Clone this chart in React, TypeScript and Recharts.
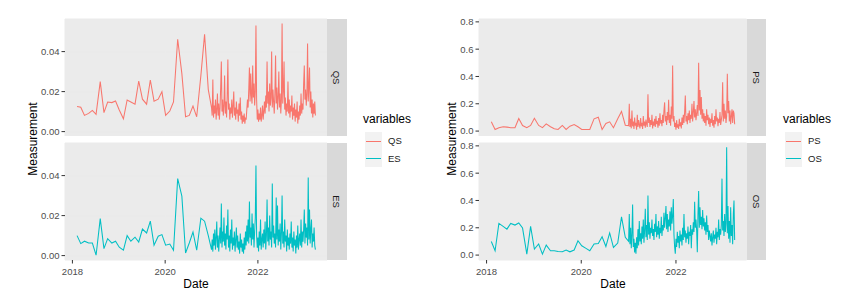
import React from "react";
import { CartesianGrid, Line, LineChart, XAxis, YAxis } from "recharts";

// monthly readings, Feb 2018 - Dec 2020
const sparseDates = [
  2018.10, 2018.18, 2018.26, 2018.35, 2018.43, 2018.51, 2018.60, 2018.68, 2018.76, 2018.85, 2018.93,
  2019.01, 2019.10, 2019.18, 2019.26, 2019.35, 2019.43, 2019.51, 2019.60, 2019.68, 2019.76, 2019.85, 2019.93,
  2020.01, 2020.10, 2020.18, 2020.27, 2020.36, 2020.44, 2020.52, 2020.60, 2020.68, 2020.77, 2020.85, 2020.93,
];

const qsSparse = [
  0.0125, 0.0122, 0.0081, 0.0091, 0.0106, 0.0086, 0.025, 0.0095, 0.0148, 0.0145, 0.0153,
  0.0108, 0.0064, 0.0158, 0.0148, 0.0137, 0.0253, 0.0162, 0.0137, 0.0258, 0.0152, 0.0162, 0.0199,
  0.0081, 0.0103, 0.0148, 0.0462, 0.029, 0.0074, 0.0081, 0.0128, 0.0074, 0.028, 0.0486, 0.021,
];
const esSparse = [
  0.01, 0.006, 0.0072, 0.0063, 0.0063, 0.0002, 0.0185, 0.0035, 0.0085, 0.0063, 0.0072,
  0.0042, 0.0027, 0.01, 0.0072, 0.0092, 0.0068, 0.0133, 0.0113, 0.0172, 0.0052, 0.0097, 0.0105,
  0.0052, 0.0058, 0.0027, 0.0385, 0.0297, 0.0013, 0.0063, 0.0118, 0.0027, 0.0187, 0.0172, 0.01,
];
const psSparse = [
  0.068, 0.012, 0.025, 0.032, 0.029, 0.025, 0.025, 0.092, 0.041, 0.025, 0.041,
  0.094, 0.041, 0.025, 0.053, 0.032, 0.017, 0.012, 0.041, 0.012, 0.036, 0.048, 0.032,
  0.012, 0.012, 0.012, 0.09, 0.101, 0.012, 0.056, 0.068, 0.025, 0.09, 0.144, 0.043,
];
const osSparse = [
  0.1, 0.032, 0.232, 0.21, 0.19, 0.232, 0.22, 0.235, 0.198, 0.007, 0.21,
  0.044, 0.081, 0.007, 0.073, 0.032, 0.032, 0.026, 0.024, 0.037, 0.024, 0.037, 0.105,
  0.068, 0.049, 0.032, 0.081, 0.085, 0.134, 0.063, 0.162, 0.056, 0.088, 0.28, 0.13,
];

// frequent readings, Jan 2021 - Mar 2023
const denseStart = 2021.0;
const denseEnd = 2023.24;

const qsDense = [
  0.012, 0.008, 0.026, 0.007, 0.013, 0.009, 0.016, 0.006, 0.011, 0.019,
  0.008, 0.014, 0.006, 0.012, 0.022, 0.035, 0.01, 0.016, 0.008, 0.013,
  0.028, 0.009, 0.015, 0.007, 0.018, 0.036, 0.011, 0.014, 0.006, 0.012,
  0.009, 0.016, 0.007, 0.013, 0.02, 0.008, 0.012, 0.006, 0.015, 0.009,
  0.011, 0.005, 0.014, 0.008, 0.017, 0.006, 0.01, 0.004, 0.008, 0.005,
  0.009, 0.004, 0.007, 0.006, 0.011, 0.016, 0.012, 0.021, 0.032, 0.015,
  0.029, 0.018, 0.014, 0.033, 0.017, 0.024, 0.013, 0.02, 0.053, 0.016,
  0.006, 0.011, 0.005, 0.009, 0.006, 0.012, 0.005, 0.008, 0.013, 0.006,
  0.01, 0.015, 0.009, 0.018, 0.012, 0.035, 0.014, 0.02, 0.01, 0.024,
  0.013, 0.017, 0.04, 0.012, 0.021, 0.015, 0.009, 0.019, 0.038, 0.014,
  0.022, 0.011, 0.017, 0.03, 0.012, 0.019, 0.009, 0.016, 0.054, 0.014,
  0.02, 0.035, 0.011, 0.017, 0.008, 0.014, 0.01, 0.025, 0.009, 0.016,
  0.007, 0.013, 0.01, 0.018, 0.006, 0.012, 0.008, 0.014, 0.005, 0.011,
  0.007, 0.015, 0.004, 0.01, 0.006, 0.013, 0.008, 0.019, 0.009, 0.014,
  0.011, 0.024, 0.033, 0.016, 0.021, 0.013, 0.019, 0.044, 0.015, 0.022,
  0.032, 0.012, 0.02, 0.009, 0.016, 0.007, 0.014, 0.009, 0.015, 0.008,
];
const esDense = [
  0.003, 0.008, 0.002, 0.011, 0.005, 0.013, 0.003, 0.009, 0.017, 0.004,
  0.01, 0.002, 0.008, 0.014, 0.006, 0.026, 0.004, 0.012, 0.007, 0.019,
  0.005, 0.011, 0.003, 0.015, 0.008, 0.023, 0.004, 0.01, 0.002, 0.013,
  0.006, 0.018, 0.003, 0.009, 0.005, 0.012, 0.002, 0.008, 0.014, 0.004,
  0.01, 0.003, 0.007, 0.001, 0.011, 0.004, 0.008, 0.002, 0.006, 0.001,
  0.009, 0.003, 0.012, 0.005, 0.015, 0.007, 0.018, 0.006, 0.027, 0.009,
  0.014, 0.005, 0.021, 0.008, 0.016, 0.004, 0.012, 0.019, 0.045, 0.01,
  0.004, 0.009, 0.002, 0.012, 0.005, 0.018, 0.003, 0.008, 0.011, 0.004,
  0.013, 0.006, 0.017, 0.003, 0.01, 0.028, 0.007, 0.014, 0.005, 0.02,
  0.008, 0.012, 0.004, 0.036, 0.009, 0.015, 0.006, 0.011, 0.004, 0.029,
  0.008, 0.025, 0.005, 0.013, 0.007, 0.016, 0.003, 0.011, 0.03, 0.006,
  0.012, 0.004, 0.018, 0.007, 0.01, 0.002, 0.013, 0.005, 0.009, 0.003,
  0.011, 0.006, 0.017, 0.004, 0.009, 0.002, 0.012, 0.005, 0.008, 0.001,
  0.01, 0.004, 0.015, 0.003, 0.008, 0.011, 0.005, 0.018, 0.004, 0.012,
  0.007, 0.013, 0.023, 0.006, 0.016, 0.009, 0.014, 0.005, 0.039, 0.008,
  0.023, 0.006, 0.013, 0.018, 0.004, 0.011, 0.007, 0.014, 0.005, 0.003,
];
const psDense = [
  0.04, 0.2, 0.03, 0.09, 0.02, 0.15, 0.035, 0.07, 0.015, 0.1,
  0.04, 0.06, 0.01, 0.12, 0.03, 0.08, 0.045, 0.02, 0.095, 0.035,
  0.06, 0.015, 0.11, 0.04, 0.07, 0.025, 0.085, 0.05, 0.03, 0.27,
  0.06, 0.1, 0.03, 0.08, 0.045, 0.12, 0.02, 0.07, 0.04, 0.09,
  0.03, 0.11, 0.05, 0.075, 0.025, 0.095, 0.04, 0.13, 0.055, 0.08,
  0.035, 0.12, 0.06, 0.15, 0.21, 0.07, 0.11, 0.045, 0.14, 0.08,
  0.23, 0.06, 0.12, 0.04, 0.18, 0.09, 0.48, 0.07, 0.11, 0.03,
  0.06, 0.01, 0.08, 0.025, 0.05, 0.015, 0.09, 0.035, 0.065, 0.02,
  0.1, 0.045, 0.12, 0.06, 0.14, 0.26, 0.07, 0.11, 0.05, 0.13,
  0.08, 0.15, 0.06, 0.12, 0.09, 0.2, 0.07, 0.14, 0.22, 0.1,
  0.16, 0.08, 0.13, 0.19, 0.11, 0.5, 0.15, 0.3, 0.12, 0.25,
  0.09, 0.16, 0.07, 0.13, 0.06, 0.11, 0.04, 0.16, 0.08, 0.12,
  0.05, 0.1, 0.03, 0.09, 0.06, 0.13, 0.04, 0.08, 0.025, 0.11,
  0.05, 0.16, 0.07, 0.1, 0.035, 0.09, 0.06, 0.14, 0.045, 0.08,
  0.12, 0.357, 0.07, 0.2, 0.09, 0.15, 0.06, 0.11, 0.42, 0.13,
  0.22, 0.07, 0.15, 0.05, 0.11, 0.16, 0.06, 0.15, 0.13, 0.05,
];
const osDense = [
  0.1, 0.3, 0.08, 0.2, 0.05, 0.15, 0.37, 0.06, 0.12, 0.02,
  0.09, 0.01, 0.13, 0.05, 0.19, 0.07, 0.25, 0.1, 0.16, 0.08,
  0.21, 0.12, 0.26, 0.09, 0.18, 0.34, 0.13, 0.22, 0.11, 0.436,
  0.15, 0.24, 0.12, 0.2, 0.16, 0.26, 0.14, 0.19, 0.11, 0.23,
  0.17, 0.3, 0.13, 0.21, 0.15, 0.25, 0.12, 0.2, 0.16, 0.28,
  0.14, 0.22, 0.18, 0.31, 0.2, 0.27, 0.36, 0.19, 0.3, 0.17,
  0.26, 0.21, 0.32, 0.18, 0.35, 0.23, 0.29, 0.41, 0.15, 0.06,
  0.01, 0.12, 0.06, 0.17, 0.09, 0.14, 0.05, 0.18, 0.1, 0.15,
  0.07, 0.2, 0.11, 0.3, 0.13, 0.18, 0.09, 0.16, 0.12, 0.21,
  0.08, 0.17, 0.14, 0.22, 0.05, 0.19, 0.15, 0.24, 0.17, 0.39,
  0.2, 0.26, 0.18, 0.02, 0.3, 0.47, 0.2, 0.35, 0.22, 0.28,
  0.19, 0.33, 0.21, 0.27, 0.18, 0.24, 0.15, 0.29, 0.17, 0.22,
  0.11, 0.18, 0.14, 0.1, 0.16, 0.07, 0.13, 0.18, 0.09, 0.15,
  0.12, 0.2, 0.08, 0.17, 0.13, 0.26, 0.11, 0.19, 0.15, 0.22,
  0.56, 0.18, 0.25, 0.14, 0.3, 0.17, 0.23, 0.79, 0.16, 0.36,
  0.12, 0.25, 0.09, 0.35, 0.14, 0.22, 0.08, 0.3, 0.4, 0.11,
];

const xTicks = [2018, 2020, 2022];
const leftTicks = [0, 0.02, 0.04];
const rightTicks = [0, 0.2, 0.4, 0.6, 0.8];

const RED = "#F8766D";
const TEAL = "#00BFC4";
const FONT = "'Liberation Sans', Arial, sans-serif";
const X_DOMAIN: [number, number] = [2017.84, 2023.49];

const denseDates = qsDense.map(
  (_, i) => denseStart + (i * (denseEnd - denseStart)) / (qsDense.length - 1)
);

function rows(sparse: number[], dense: number[]) {
  return [
    ...sparseDates.map((d, i) => ({ date: d, value: sparse[i] })),
    ...denseDates.map((d, i) => ({ date: d, value: dense[i] })),
  ];
}

const Y_W = 45;
const X_H = 30;
const PAD = 8; // room above the panel so the top tick label is not cut

function Facet(props: {
  data: { date: number; value: number }[];
  color: string;
  left: number;
  top: number;
  w: number;
  h: number;
  domain: [number, number];
  ticks: number[];
  fmt: (v: number) => string;
  showX: boolean;
}) {
  const { data, color, left, top, w, h, domain, ticks, fmt, showX } = props;
  return (
    <div style={{ position: "absolute", left: left - Y_W, top: top - PAD }}>
      <LineChart
        width={w + Y_W}
        height={h + PAD + (showX ? X_H : 0)}
        data={data}
        margin={{ top: PAD, right: 0, bottom: 0, left: 0 }}
      >
        <CartesianGrid fill="#EBEBEB" stroke="#EBEBEB" />
        <XAxis
          dataKey="date"
          type="number"
          domain={X_DOMAIN}
          ticks={xTicks}
          interval={0}
          allowDataOverflow
          hide={!showX}
          height={X_H}
          axisLine={false}
          tickSize={3.5}
          tickMargin={5}
          tickLine={{ stroke: "#333333" }}
          tick={{ fill: "#4D4D4D", fontSize: 9.5, fontFamily: FONT }}
        />
        <YAxis
          type="number"
          domain={domain}
          ticks={ticks}
          interval={0}
          allowDataOverflow
          width={Y_W}
          axisLine={false}
          tickSize={3.5}
          tickMargin={2}
          tickFormatter={fmt}
          tickLine={{ stroke: "#333333" }}
          tick={{ fill: "#4D4D4D", fontSize: 9.5, fontFamily: FONT }}
        />
        <Line
          type="linear"
          dataKey="value"
          stroke={color}
          strokeWidth={1.05}
          dot={false}
          isAnimationActive={false}
        />
      </LineChart>
    </div>
  );
}

function Strip({ left, top, h, label }: { left: number; top: number; h: number; label: string }) {
  return (
    <div
      style={{
        position: "absolute",
        left,
        top,
        width: 19.5,
        height: h,
        background: "#D9D9D9",
        display: "flex",
        alignItems: "center",
        justifyContent: "center",
      }}
    >
      <span style={{ transform: "rotate(90deg)", fontSize: 9.5, color: "#1A1A1A", fontFamily: FONT, whiteSpace: "nowrap" }}>
        {label}
      </span>
    </div>
  );
}

function Legend({ left, labels }: { left: number; labels: string[] }) {
  const colors = [RED, TEAL];
  return (
    <div style={{ position: "absolute", left, top: 111, fontFamily: FONT }}>
      <div style={{ fontSize: 12, color: "#000", height: 21, lineHeight: "16px" }}>variables</div>
      {labels.map((l, i) => (
        <div key={l} style={{ position: "relative", height: 17.5 }}>
          <div style={{ position: "absolute", left: 2, top: 0, width: 17, height: 17.5, background: "#F2F2F2" }}>
            <div style={{ position: "absolute", left: 1, right: 1, top: 8.5, height: 1, background: colors[i] }} />
          </div>
          <div style={{ position: "absolute", left: 25, top: 0, lineHeight: "17.5px", fontSize: 9.5, color: "#1A1A1A" }}>{l}</div>
        </div>
      ))}
    </div>
  );
}

function YLabel({ cx }: { cx: number }) {
  return (
    <div
      style={{
        position: "absolute",
        left: cx - 60,
        top: 139 - 8,
        width: 120,
        height: 16,
        lineHeight: "16px",
        textAlign: "center",
        transform: "rotate(-90deg)",
        fontSize: 12,
        fontFamily: FONT,
        color: "#000",
      }}
    >
      Measurement
    </div>
  );
}

function XLabel({ cx }: { cx: number }) {
  return (
    <div
      style={{
        position: "absolute",
        left: cx - 40,
        top: 276,
        width: 80,
        textAlign: "center",
        lineHeight: "16px",
        fontSize: 12,
        fontFamily: FONT,
        color: "#000",
      }}
    >
      Date
    </div>
  );
}

export default function App() {
  const fmt2 = (v: number) => v.toFixed(2);
  const fmt1 = (v: number) => v.toFixed(1);
  const leftDomain: [number, number] = [-0.0022, 0.0563];
  const rightDomain: [number, number] = [-0.036, 0.821];
  const topY = 19;
  const botY = 142.5;
  const fh = 117;
  return (
    <div style={{ position: "absolute", left: 0, top: 0, width: 859, height: 307, background: "#fff", overflow: "hidden" }}>
      <Facet data={rows(qsSparse, qsDense)} color={RED} left={65} top={topY} w={262} h={fh} domain={leftDomain} ticks={leftTicks} fmt={fmt2} showX={false} />
      <Facet data={rows(esSparse, esDense)} color={TEAL} left={65} top={botY} w={262} h={fh} domain={leftDomain} ticks={leftTicks} fmt={fmt2} showX />
      <Facet data={rows(psSparse, psDense)} color={RED} left={479.3} top={topY} w={267.5} h={fh} domain={rightDomain} ticks={rightTicks} fmt={fmt1} showX={false} />
      <Facet data={rows(osSparse, osDense)} color={TEAL} left={479.3} top={botY} w={267.5} h={fh} domain={rightDomain} ticks={rightTicks} fmt={fmt1} showX />

      <Strip left={327} top={topY} h={fh} label="QS" />
      <Strip left={327} top={botY} h={fh} label="ES" />
      <Strip left={746.8} top={topY} h={fh} label="PS" />
      <Strip left={746.8} top={botY} h={fh} label="OS" />

      <YLabel cx={33} />
      <YLabel cx={452} />
      <XLabel cx={196} />
      <XLabel cx={613} />

      <Legend left={363} labels={["QS", "ES"]} />
      <Legend left={783} labels={["PS", "OS"]} />
    </div>
  );
}
